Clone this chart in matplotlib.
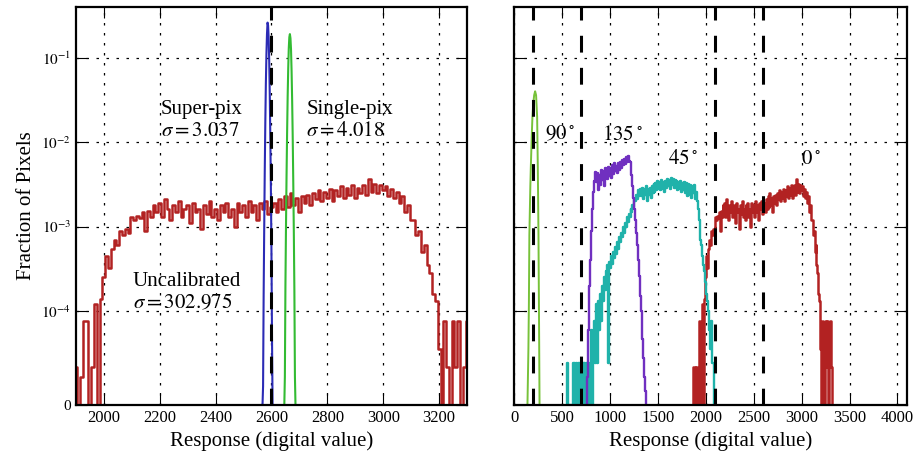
import matplotlib
matplotlib.use("Agg")
import matplotlib.pyplot as plt
import numpy as np

plt.rcParams['font.family'] = 'serif'
plt.rcParams['font.serif'] = ['Liberation Serif', 'DejaVu Serif']
plt.rcParams['mathtext.fontset'] = 'stix'

# uncalibrated / 0 deg histogram (10 DN bins)
red_x = np.arange(1860, 3330, 10)
red_y = [0, 4e-5, 4e-5, 0, 4e-5, 0, 3e-5, 9e-5, 9e-5, 0,
         4e-5, 1.2e-4, 0, 1.4e-4, 2.5e-4, 4.5e-4, 3.2e-4, 5.5e-4, 7e-4, 6e-4,
         9e-4, 8e-4, 9.5e-4, 8.5e-4, 1.3e-3, 1.2e-3, 1.35e-3, 1.25e-3, 1.5e-3, 9e-4,
         1.55e-3, 1.3e-3, 1.8e-3, 1.5e-3, 1.9e-3, 1.3e-3, 2.1e-3, 1.6e-3, 1.2e-3, 1.8e-3,
         1.5e-3, 2.0e-3, 1.3e-3, 1.6e-3, 1.8e-3, 1.1e-3, 1.9e-3, 1.5e-3, 1.6e-3, 9.5e-4,
         1.8e-3, 1.4e-3, 2.0e-3, 1.3e-3, 1.6e-3, 1.2e-3, 1.8e-3, 1.5e-3, 1.9e-3, 1.3e-3,
         1.6e-3, 1.0e-3, 1.9e-3, 1.5e-3, 1.8e-3, 1.3e-3, 2.0e-3, 1.5e-3, 1.8e-3, 1.2e-3,
         1.9e-3, 1.6e-3, 2.0e-3, 1.4e-3, 1.7e-3, 1.9e-3, 1.5e-3, 2.1e-3, 1.6e-3, 2.3e-3,
         1.7e-3, 2.5e-3, 1.8e-3, 2.2e-3, 1.5e-3, 2.3e-3, 1.9e-3, 2.4e-3, 1.8e-3, 2.5e-3,
         2.1e-3, 2.7e-3, 2.0e-3, 2.6e-3, 2.2e-3, 2.8e-3, 2.0e-3, 2.7e-3, 2.3e-3, 3.0e-3,
         2.2e-3, 2.9e-3, 2.4e-3, 3.1e-3, 2.2e-3, 2.9e-3, 2.5e-3, 3.1e-3, 2.4e-3, 3.7e-3,
         2.6e-3, 3.2e-3, 2.5e-3, 3.1e-3, 2.7e-3, 3.0e-3, 2.3e-3, 2.8e-3, 2.2e-3, 2.6e-3,
         1.9e-3, 2.3e-3, 1.5e-3, 1.8e-3, 1.2e-3, 1.2e-3, 8e-4, 9e-4, 5e-4, 6e-4,
         3.5e-4, 2.8e-4, 1.6e-4, 1.3e-4, 6e-5, 0, 9e-5, 4e-5, 0, 9e-5,
         4e-5, 9e-5, 0, 4e-5, 9e-5, 4e-5, 0]

# super-pixel calibrated
blue_x = np.arange(2566, 2608, 2)
blue_y = [0, 0, 2e-5, 1.5e-4, 9e-4, 4.5e-3, 0.017, 0.05, 0.11, 0.19, 0.26,
          0.24, 0.17, 0.09, 0.036, 0.011, 2.7e-3, 5e-4, 7e-5, 0, 0]

# single-pixel calibrated
green_x = np.arange(2646, 2688, 2)
green_y = [0, 3e-5, 2e-4, 1e-3, 4e-3, 0.013, 0.035, 0.075, 0.13, 0.175, 0.19,
           0.17, 0.125, 0.07, 0.032, 0.012, 3.5e-3, 9e-4, 1.8e-4, 3e-5, 0]

# 90 deg
g90_x = [140, 150, 155, 160, 170, 175, 185, 192, 200, 210, 220, 230, 241, 248, 255, 262, 266]
g90_y = [0, 6e-5, 1.2e-4, 8e-4, 3e-3, 5e-3, 0.012, 0.02, 0.028, 0.036, 0.04,
         0.036, 0.02, 5e-3, 8e-4, 7e-5, 0]

# 135 deg
p135_x = np.arange(760, 1390, 10)
p135_y = [0, 3e-5, 8e-5, 2e-4, 4e-4, 9e-4, 1.6e-3, 2.6e-3, 3.5e-3, 4.4e-3,
          3.4e-3, 4.3e-3, 2.7e-3, 4.1e-3, 3.1e-3, 4.7e-3, 3.6e-3, 4.6e-3, 3.0e-3, 4.9e-3,
          3.9e-3, 4.7e-3, 3.7e-3, 5.1e-3, 4.0e-3, 4.9e-3, 3.8e-3, 5.3e-3, 4.2e-3, 5.6e-3,
          4.5e-3, 5.2e-3, 4.3e-3, 5.7e-3, 4.7e-3, 5.9e-3, 5.0e-3, 6.2e-3, 5.3e-3, 6.4e-3,
          5.5e-3, 6.7e-3, 5.8e-3, 6.9e-3, 6.0e-3, 5.9e-3, 5.0e-3, 4.1e-3, 3.0e-3, 2.2e-3,
          1.6e-3, 1.2e-3, 8.5e-4, 6e-4, 4e-4, 2.6e-4, 1.5e-4, 1e-4, 7e-5, 5e-5,
          3e-5, 1.5e-5, 0]

# 45 deg
c45_x = np.arange(550, 2100, 10)
c45_y = [0, 4.5e-5, 0, 0, 0, 0, 0, 4.5e-5, 4.5e-5, 0,
         4.5e-5, 0, 4.5e-5, 4.5e-5, 0, 4.5e-5, 0, 4.5e-5, 0, 4.5e-5,
         0, 4.5e-5, 0, 4.5e-5, 0, 4.5e-5, 8e-5, 0, 4.5e-5, 9e-5,
         4.5e-5, 1.2e-4, 4.5e-5, 1.3e-4, 8e-5, 1.6e-4, 9e-5, 2e-4, 1.3e-4, 2.5e-4,
         1.8e-4, 3e-4, 2.2e-4, 3.5e-4, 4.5e-5, 3.8e-4, 3.2e-4, 4.5e-4, 3.6e-4, 5e-4,
         4.2e-4, 5.8e-4, 4.8e-4, 6.5e-4, 5.5e-4, 7.5e-4, 6.5e-4, 8.5e-4, 7.5e-4, 1.0e-3,
         8.5e-4, 1.1e-3, 1.0e-3, 1.3e-3, 1.15e-3, 1.4e-3, 1.3e-3, 1.6e-3, 1.5e-3, 1.8e-3,
         1.7e-3, 2.1e-3, 2.0e-3, 2.4e-3, 2.1e-3, 2.7e-3, 2.3e-3, 2.8e-3, 2.3e-3, 2.9e-3,
         2.1e-3, 2.8e-3, 2.4e-3, 3.0e-3, 2.0e-3, 2.8e-3, 2.4e-3, 2.9e-3, 2.2e-3, 3.0e-3,
         2.5e-3, 3.2e-3, 2.6e-3, 3.3e-3, 2.7e-3, 3.5e-3, 2.8e-3, 3.4e-3, 2.7e-3, 3.6e-3,
         2.8e-3, 3.4e-3, 2.6e-3, 3.5e-3, 2.9e-3, 3.7e-3, 3.0e-3, 3.6e-3, 2.8e-3, 3.8e-3,
         3.1e-3, 3.7e-3, 2.9e-3, 3.6e-3, 3.0e-3, 3.5e-3, 2.7e-3, 3.4e-3, 2.8e-3, 3.5e-3,
         2.6e-3, 3.3e-3, 2.7e-3, 3.4e-3, 2.5e-3, 3.3e-3, 2.3e-3, 3.2e-3, 2.4e-3, 3.1e-3,
         2.2e-3, 3.0e-3, 2.5e-3, 3.1e-3, 2.1e-3, 2.6e-3, 2.0e-3, 1.6e-3, 1.2e-3, 9e-4,
         7e-4, 6e-4, 4.5e-4, 3.5e-4, 3e-4, 2.2e-4, 1.6e-4, 1.3e-4, 1e-4, 8e-5,
         6e-5, 9e-5, 4.5e-5, 4.5e-5, 0]

left_vlines = [2600]
right_vlines = [200, 700, 2100, 2600]

yticks = [0, 1e-4, 1e-3, 1e-2, 1e-1]
ytick_labels = ['0', r'$10^{-4}$', r'$10^{-3}$', r'$10^{-2}$', r'$10^{-1}$']

RED = '#b22222'
BLUE = '#2b2bb5'
GREEN = '#33bb33'
LGREEN = '#77c23a'
PURPLE = '#7030c0'
CYAN = '#20b2aa'

fig = plt.figure(figsize=(9.14, 4.63), dpi=100)
ax1 = fig.add_axes([0.083, 0.1253, 0.428, 0.86])
ax2 = fig.add_axes([0.5624, 0.1253, 0.43, 0.86])

dash = (5.5, 5)

for ax in (ax1, ax2):
    ax.set_yscale('symlog', linthresh=1e-4, linscale=1)
    ax.set_ylim(0, 0.4)
    ax.set_yticks(yticks)
    ax.yaxis.set_minor_locator(matplotlib.ticker.NullLocator())
    ax.grid(True, color='k', linestyle=(0, (2, 6)), linewidth=0.9)
    ax.tick_params(direction='in', top=True, right=True, length=8, width=0.8,
                   labelsize=12)
    for s in ax.spines.values():
        s.set_linewidth(1.6)
    ax.set_xlabel('Response (digital value)', fontsize=15)

# left panel
ax1.plot(red_x, red_y, color=RED, lw=1.8, drawstyle='steps-mid')
ax1.plot(blue_x, blue_y, color=BLUE, lw=1.5)
ax1.plot(green_x, green_y, color=GREEN, lw=1.5)
for v in left_vlines:
    ax1.axvline(v, color='k', lw=2.2, dashes=dash)
ax1.set_xlim(1900, 3300)
ax1.set_xticks([2000, 2200, 2400, 2600, 2800, 3000, 3200])
ax1.set_yticklabels(ytick_labels)
ax1.tick_params(axis='y', labelsize=11)
ax1.set_ylabel('Fraction of Pixels', fontsize=15)

ax1.text(2205, 0.018, 'Super-pix\n' + r'$\sigma=3.037$', fontsize=15,
         ha='left', va='center', linespacing=1.2)
ax1.text(2725, 0.018, 'Single-pix\n' + r'$\sigma=4.018$', fontsize=15,
         ha='left', va='center', linespacing=1.2)
ax1.text(2104, 1.65e-4, 'Uncalibrated\n' + r'$\sigma=302.975$', fontsize=15,
         ha='left', va='center', linespacing=1.2)

# right panel
ax2.plot(red_x, red_y, color=RED, lw=1.8, drawstyle='steps-mid')
ax2.plot(c45_x, c45_y, color=CYAN, lw=1.7, drawstyle='steps-mid')
ax2.plot(p135_x, p135_y, color=PURPLE, lw=1.7, drawstyle='steps-mid')
ax2.plot(g90_x, g90_y, color=LGREEN, lw=1.4)
for v in right_vlines:
    ax2.axvline(v, color='k', lw=2.2, dashes=dash)
ax2.set_xlim(0, 4100)
ax2.set_xticks([0, 500, 1000, 1500, 2000, 2500, 3000, 3500, 4000])
ax2.set_yticklabels([])

ax2.text(318, 0.0121, r'$90\,^{\circ}$', fontsize=15, ha='left', va='center')
ax2.text(919, 0.0121, r'$135\,^{\circ}$', fontsize=15, ha='left', va='center')
ax2.text(1601, 0.0062, r'$45\,^{\circ}$', fontsize=15, ha='left', va='center')
ax2.text(2990, 0.0062, r'$0\,^{\circ}$', fontsize=15, ha='left', va='center')

fig.savefig('out.png', dpi=100)
